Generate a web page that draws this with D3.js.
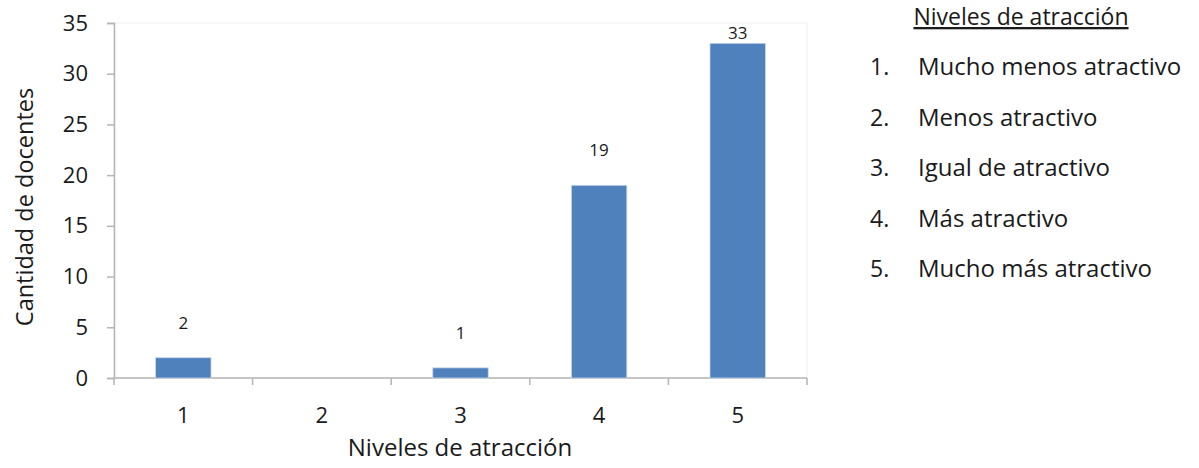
<!DOCTYPE html>
<html>
<head>
<meta charset="utf-8">
<script src="https://cdn.jsdelivr.net/npm/d3@7"></script>
<style>
  html, body { margin: 0; padding: 0; background: #fff; }
  svg { display: block; font-family: "Open Sans", "Noto Sans", sans-serif; }
</style>
</head>
<body>
<svg id="chart" width="1199" height="468"></svg>
<script>
// Niveles de atracción (1–5) y cantidad de docentes por nivel
const categories = ["1", "2", "3", "4", "5"];
const counts = [2, 0, 1, 19, 33];
const yTicks = [0, 5, 10, 15, 20, 25, 30, 35];
const legendTitle = "Niveles de atracción";
const legendItems = [
  "Mucho menos atractivo",
  "Menos atractivo",
  "Igual de atractivo",
  "Más atractivo",
  "Mucho más atractivo"
];

const svg = d3.select("#chart");
const plotLeft = 114, plotRight = 807, plotTop = 23, plotBottom = 378;
const textColor = "#1a1a1a";

const x = d3.scaleBand().domain(categories).range([plotLeft, plotRight]).paddingInner(0.6).paddingOuter(0.3);
const y = d3.scaleLinear().domain([0, 35]).range([plotBottom, plotTop]);

// faint plot frame
svg.append("rect")
  .attr("x", plotLeft).attr("y", plotTop)
  .attr("width", plotRight - plotLeft).attr("height", plotBottom - plotTop)
  .attr("fill", "none").attr("stroke", "#efefef").attr("stroke-width", 1);

// y axis
const yAxis = svg.append("g")
  .attr("transform", `translate(${plotLeft},0)`)
  .call(d3.axisLeft(y).tickValues(yTicks).tickSize(7).tickPadding(19));
yAxis.select(".domain").attr("stroke", "#b5b5b5").attr("stroke-width", 1.5);
yAxis.selectAll(".tick line").attr("stroke", "#b5b5b5").attr("stroke-width", 1.5);
yAxis.selectAll(".tick text").attr("font-size", 22).attr("fill", textColor)
  .attr("font-family", "Open Sans, sans-serif");

// x axis with ticks between categories
const xAxisG = svg.append("g").attr("transform", `translate(0,${plotBottom})`);
xAxisG.append("line")
  .attr("x1", plotLeft).attr("x2", plotRight).attr("y1", 0).attr("y2", 0)
  .attr("stroke", "#b5b5b5").attr("stroke-width", 1.5);
const bounds = categories.map(c => x(c) - x.step() * x.paddingInner() / 2);
bounds.push(plotRight);
xAxisG.selectAll("line.sep").data(bounds).join("line")
  .attr("class", "sep")
  .attr("x1", d => d).attr("x2", d => d).attr("y1", 0).attr("y2", 7)
  .attr("stroke", "#b5b5b5").attr("stroke-width", 1.5);
xAxisG.selectAll("text.cat").data(categories).join("text")
  .attr("class", "cat")
  .attr("x", d => x(d) + x.bandwidth() / 2).attr("y", 45)
  .attr("text-anchor", "middle").attr("font-size", 22).attr("fill", textColor)
  .text(d => d);

// bars
svg.selectAll("rect.bar").data(counts).join("rect")
  .attr("class", "bar")
  .attr("x", (d, i) => x(categories[i]))
  .attr("y", d => y(d))
  .attr("width", x.bandwidth())
  .attr("height", d => plotBottom - y(d))
  .attr("fill", "#4F81BD")
  .attr("stroke", d => d > 0 ? "#c9d7ea" : "none").attr("stroke-width", 0.8);

// value labels (zero is not labelled)
svg.selectAll("text.val").data(counts.map((v, i) => ({ v, c: categories[i] })).filter(d => d.v > 0))
  .join("text")
  .attr("class", "val")
  .attr("x", d => x(d.c) + x.bandwidth() / 2)
  .attr("y", d => Math.max(y(d.v) - 29, plotTop + 16))
  .attr("text-anchor", "middle").attr("font-size", 17).attr("fill", textColor)
  .text(d => d.v);

// axis titles
svg.append("text")
  .attr("transform", `translate(33,207) rotate(-90)`)
  .attr("text-anchor", "middle").attr("font-size", 23.5).attr("fill", textColor)
  .text("Cantidad de docentes");
svg.append("text")
  .attr("x", 460).attr("y", 456)
  .attr("text-anchor", "middle").attr("font-size", 24).attr("fill", textColor)
  .text("Niveles de atracción");

// legend listing the levels
const lg = svg.append("g");
lg.append("text")
  .attr("x", 1021).attr("y", 25)
  .attr("text-anchor", "middle").attr("font-size", 23).attr("fill", textColor)
  .attr("text-decoration", "underline")
  .text(legendTitle);
const items = lg.selectAll("g.item").data(legendItems).join("g")
  .attr("class", "item")
  .attr("transform", (d, i) => `translate(0,${75 + i * 50.5})`);
items.append("text").attr("x", 870).attr("font-size", 23).attr("fill", textColor)
  .text((d, i) => `${i + 1}.`);
items.append("text").attr("x", 918).attr("font-size", 24).attr("fill", textColor)
  .attr("textLength", null)
  .text(d => d);
</script>
</body>
</html>
